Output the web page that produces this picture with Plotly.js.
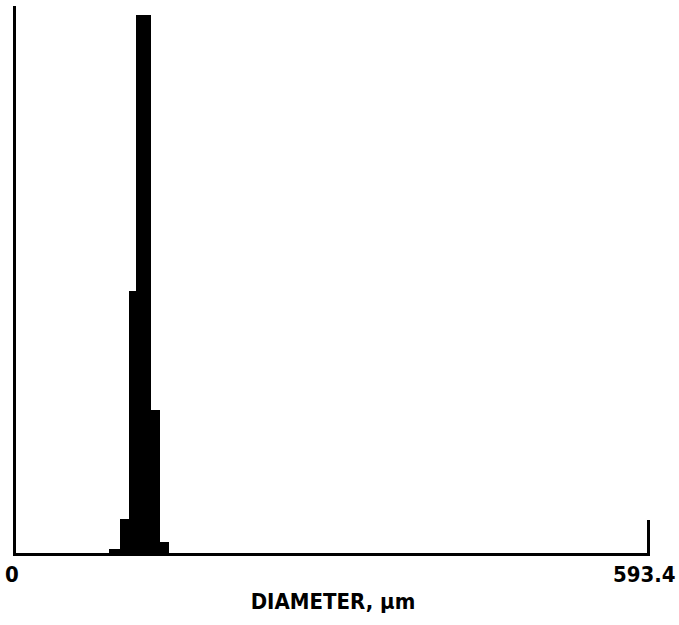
<!DOCTYPE html>
<html>
<head>
<meta charset="utf-8">
<script src="https://cdn.plot.ly/plotly-3.0.1.min.js"></script>
<style>
  html, body { margin: 0; padding: 0; background: #fff; }
  #chart { width: 679px; height: 625px; }
</style>
</head>
<body>
<div id="chart"></div>
<script>
// Bin edges along diameter (µm) and relative bar heights
const binEdges = [87.5, 97.8, 105.6, 112.8, 126.7, 135.0, 143.9];
const binHeights = [4, 34, 262, 538, 143, 11];
const xTickVals = [0, 593.4];
const xTickText = ['0', '593.4'];

const centers = [], widths = [];
for (let i = 0; i < binHeights.length; i++) {
  centers.push((binEdges[i] + binEdges[i + 1]) / 2);
  widths.push(binEdges[i + 1] - binEdges[i]);
}

const font = "'DejaVu Sans Condensed', 'Liberation Sans Narrow', 'DejaVu Sans', sans-serif";

Plotly.newPlot('chart', [{
  type: 'bar',
  x: centers,
  y: binHeights,
  width: widths,
  marker: { color: '#000', line: { width: 0 } },
  hoverinfo: 'skip'
}], {
  width: 679, height: 625,
  margin: { l: 16, r: 29, t: 6, b: 72 },
  paper_bgcolor: '#fff', plot_bgcolor: '#fff',
  showlegend: false,
  bargap: 0,
  xaxis: {
    range: [0, 595],
    showline: true, linecolor: '#000', linewidth: 3,
    showgrid: false, zeroline: false,
    tickmode: 'array', tickvals: xTickVals, ticktext: xTickText,
    ticks: 'inside', ticklen: 33, tickwidth: 3, tickcolor: '#000',
    ticklabeloverflow: 'allow',
    ticklabelshift: -4,
    tickfont: { family: font, size: 22, color: '#000', weight: 'bold' },
    title: { text: 'DIAMETER, µm', font: { family: font, size: 22, color: '#000', weight: 'bold' }, standoff: 8 }
  },
  yaxis: {
    range: [0, 547],
    showline: true, linecolor: '#000', linewidth: 3,
    showgrid: false, zeroline: false,
    showticklabels: false, ticks: ''
  }
}, { displayModeBar: false, staticPlot: true });
</script>
</body>
</html>
